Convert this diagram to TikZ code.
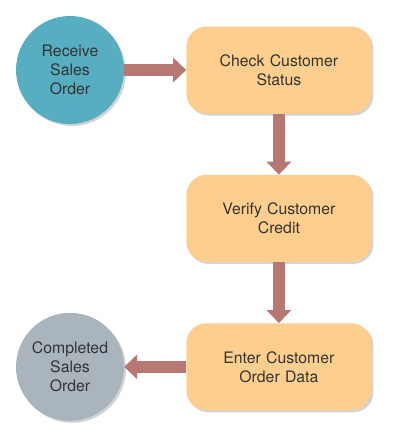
\documentclass[tikz,border=0pt]{standalone}
\usepackage{fontspec}
\setmainfont{TeX Gyre Heros}
\usepackage{tikz}
\usetikzlibrary{positioning,arrows.meta,shadows}
\definecolor{teal}{HTML}{56AEC0}
\definecolor{stone}{HTML}{A9B4BD}
\definecolor{peach}{HTML}{FECE8E}
\definecolor{rust}{HTML}{B77874}
\definecolor{ink}{HTML}{333333}
\tikzstyle{block} = [rectangle, rounded corners=20pt, fill=peach, minimum width=185pt, minimum height=87pt, text width=175pt, text centered, drop shadow={shadow xshift=2pt, shadow yshift=-2pt, opacity=0.35}]
\tikzstyle{term} = [circle, minimum size=108pt, inner sep=0pt, text width=95pt, text centered, drop shadow={shadow xshift=2pt, shadow yshift=-2pt, opacity=0.35}]
\tikzstyle{arrow} = [draw=rust, line width=12pt, -{Triangle[length=13pt, width=24pt]}]

\begin{document}
\begin{tikzpicture}[node distance = 61pt, font=\fontsize{15.8pt}{19pt}\selectfont, text=ink]
		\useasboundingbox (0pt,0pt) rectangle (409pt,-437pt);
		\node[term, fill=teal] (recv) at (70pt,-70pt) {Receive\\Sales\\Order};
		\node[block, right=62pt of recv] (check) {Check Customer\\Status};
		\node[block, below=of check] (verify) {Verify Customer\\Credit};
		\node[block, below=of verify] (enter) {Enter Customer\\Order Data};
		\node[term, fill=stone, left=62pt of enter] (done) {Completed\\Sales\\Order};
		\draw[arrow] (recv) -- (check);
		\draw[arrow] (check) -- (verify);
		\draw[arrow] (verify) -- (enter);
		\draw[arrow] (enter) -- (done);
	\end{tikzpicture}
\end{document}
